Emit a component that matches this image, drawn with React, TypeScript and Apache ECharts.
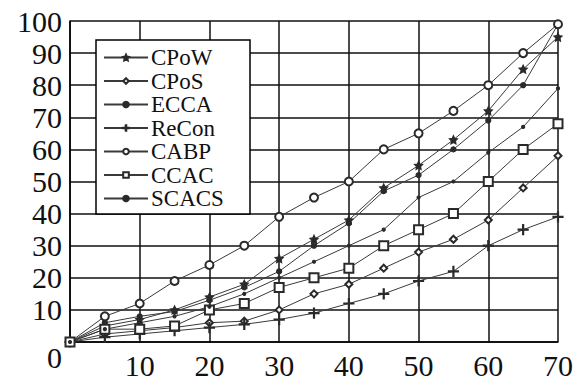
import React, { useEffect, useRef } from 'react';
import * as echarts from 'echarts';

const xValues = [0, 5, 10, 15, 20, 25, 30, 35, 40, 45, 50, 55, 60, 65, 70];
const cpow = [0, 5, 7, 10, 14, 18, 26, 32, 38, 48, 55, 63, 72, 85, 95];
const cpos = [0, 2.5, 3.5, 4.5, 6, 6.5, 10, 15, 18, 23, 28, 32, 38, 48, 58];
const ecca = [0, 6, 8, 9.5, 13, 17, 22, 30, 37, 47, 52, 60, 69, 80, 99];
const recon = [0, 1.5, 2.5, 3.5, 4.5, 5.5, 7, 9, 12, 15, 19, 22, 30, 35, 39];
const cabp = [0, 8, 12, 19, 24, 30, 39, 45, 50, 60, 65, 72, 80, 90, 99];
const ccac = [0, 4, 4, 5, 10, 12, 17, 20, 23, 30, 35, 40, 50, 60, 68];
const scacs = [0, 4, 6, 8, 11, 15, 20, 25, 30, 35, 45, 50, 59, 67, 79];

const seriesNames = ['CPoW', 'CPoS', 'ECCA', 'ReCon', 'CABP', 'CCAC', 'SCACS'];

const STAR = 'path://M0,-10 L2.9,-4 9.5,-3.1 4.7,1.5 5.9,8.1 0,5 -5.9,8.1 -4.7,1.5 -9.5,-3.1 -2.9,-4Z';
const PLUS = 'path://M-1,-10h2v9h9v2h-9v9h-2v-9h-9v-2h9z';

const FONT = '"Liberation Serif", "DejaVu Serif", serif';

export default function App() {
  const ref = useRef<HTMLDivElement>(null);
  useEffect(() => {
    document.body.style.margin = '0';
    const chart = echarts.init(ref.current!, null, { renderer: 'svg' });
    const pair = (arr: number[]) => arr.map((v, i) => [xValues[i], v]);
    const dataSets = [cpow, cpos, ecca, recon, cabp, ccac, scacs];
    const symbols = [STAR, 'emptyDiamond', 'circle', PLUS, 'emptyCircle', 'emptyRect', 'circle'];
    const sizes = [8, 7, 5, 10, 8, 9, 3];
    const series = seriesNames.map((name, i) => ({
      name,
      type: 'line',
      data: pair(dataSets[i]),
      symbol: symbols[i],
      symbolSize: sizes[i],
      showAllSymbol: true,
      lineStyle: { color: '#3a3a3a', width: 1 },
      itemStyle: { color: '#2a2a2a', borderColor: '#2a2a2a', borderWidth: 1.2 },
    }));
    chart.setOption({
      animation: false,
      backgroundColor: '#fff',
      grid: { left: 70, right: 25, top: 21, bottom: 41 },
      graphic: [
        {
          type: 'rect',
          z: 3,
          shape: { x: 96, y: 40, width: 154, height: 174 },
          style: { fill: '#fff', stroke: '#000', lineWidth: 1.5 },
        },
      ],
      legend: {
        orient: 'vertical',
        left: 96,
        top: 40,
        z: 5,
        padding: [6, 6, 4, 7],
        itemWidth: 44,
        itemHeight: 7,
        itemGap: 0.5,
        data: seriesNames,
        textStyle: { fontFamily: FONT, fontSize: 23, color: '#111', padding: [0, 0, 0, -2] },
      },
      xAxis: {
        type: 'value',
        min: 0,
        max: 70,
        interval: 10,
        axisLine: { lineStyle: { color: '#000', width: 1.5 } },
        axisTick: { show: false },
        splitLine: { show: true, lineStyle: { color: '#111', width: 1.5 } },
        axisLabel: {
          margin: 8,
          fontFamily: FONT,
          fontSize: 30,
          color: '#111',
          formatter: (v: number) => (v === 0 ? '' : String(v)),
        },
      },
      yAxis: {
        type: 'value',
        min: 0,
        max: 100,
        interval: 10,
        axisLine: { show: true, lineStyle: { color: '#000', width: 1.5 } },
        axisTick: { show: false },
        splitLine: { show: true, lineStyle: { color: '#111', width: 1.5 } },
        axisLabel: {
          margin: 8,
          fontFamily: FONT,
          fontSize: 30,
          color: '#111',
          formatter: (v: number) => (v === 0 ? '{z|0}' : String(v)),
          rich: { z: { fontFamily: FONT, fontSize: 30, color: '#111', padding: [30, 0, 0, 0] } },
        },
      },
      series,
    });
    return () => chart.dispose();
  }, []);
  return <div ref={ref} style={{ width: 583, height: 383 }} />;
}
